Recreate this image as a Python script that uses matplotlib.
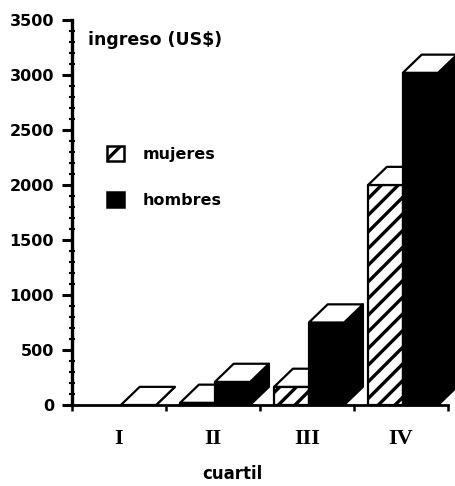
import numpy as np
import matplotlib
matplotlib.use("Agg")
import matplotlib.pyplot as plt
from matplotlib.patches import Rectangle, Polygon, Patch
from matplotlib.ticker import MultipleLocator, FixedLocator

# Ingreso por cuartil, mujeres y hombres (US$)
cuartiles = ["I", "II", "III", "IV"]
mujeres = [np.nan, 20, 165, 2000]
hombres = [0, 210, 750, 3020]
series_labels = ["mujeres", "hombres"]

plt.rcParams["hatch.linewidth"] = 2.4
SANS = "DejaVu Sans"
SERIF = "Liberation Serif"

fig = plt.figure(figsize=(4.56, 4.86), dpi=100)
ax = fig.add_axes([72 / 456, 1 - 405 / 486, 376 / 456, 385 / 486])
ax.set_xlim(0, 4)
ax.set_ylim(0, 3500)

# box geometry (category units / data units)
W = 0.375
OFF = [0.15, 0.52]
DX, DY = 0.2, 165
LW = 1.6


def draw_box(x0, v, face, hatch, side):
    if np.isnan(v):
        return
    kw = dict(edgecolor="black", linewidth=LW, clip_on=False, joinstyle="round")
    ax.add_patch(Rectangle((x0, 0), W, v, facecolor=face, hatch=hatch, zorder=3, **kw))
    ax.add_patch(Polygon([(x0 + W, 0), (x0 + W + DX, DY), (x0 + W + DX, v + DY), (x0 + W, v)],
                         closed=True, facecolor=side, hatch=hatch, zorder=3, **kw))
    ax.add_patch(Polygon([(x0, v), (x0 + DX, v + DY), (x0 + W + DX, v + DY), (x0 + W, v)],
                         closed=True, facecolor="white", zorder=3, **kw))


for i in range(len(cuartiles)):
    draw_box(i + OFF[0], mujeres[i], "white", "//", "white")
    draw_box(i + OFF[1], hombres[i], "black", None, "black")

# axes styling
for s in ["top", "right"]:
    ax.spines[s].set_visible(False)
ax.spines["left"].set_linewidth(2.4)
ax.spines["bottom"].set_linewidth(2.0)
ax.spines["left"].set_zorder(5)
ax.spines["bottom"].set_zorder(5)

ax.yaxis.set_major_locator(MultipleLocator(500))
ax.yaxis.set_minor_locator(MultipleLocator(100))
ax.tick_params(axis="y", which="major", direction="out", length=7, width=2.2, pad=6,
               labelsize=11.5)
ax.tick_params(axis="y", which="minor", direction="inout", length=5, width=1.5)
for t in ax.get_yticklabels():
    t.set_fontfamily(SANS)
    t.set_fontweight("bold")

ax.xaxis.set_major_locator(FixedLocator(np.arange(0, 5)))
ax.xaxis.set_major_formatter(plt.NullFormatter())
ax.set_xticks(np.arange(len(cuartiles)) + 0.5, minor=True)
ax.set_xticklabels(cuartiles, minor=True, fontfamily=SERIF, fontweight="bold", fontsize=16)
ax.tick_params(axis="x", which="major", direction="out", length=4, width=1.8)
ax.tick_params(axis="x", which="minor", length=0, pad=17)

ax.set_xlabel("cuartil", fontfamily=SANS, fontweight="bold", fontsize=12)
ax.xaxis.set_label_coords(0.426, -0.179)
ax.xaxis.label.set_verticalalignment("center")

ax.text(0.043, 0.948, "ingreso (US$)", transform=ax.transAxes, fontfamily=SANS,
        fontweight="bold", fontsize=12.5, va="center", ha="left")

handles = [Patch(facecolor="white", edgecolor="black", hatch="/", linewidth=1.8),
           Patch(facecolor="black", edgecolor="black", linewidth=1.8)]
leg = ax.legend(handles, series_labels, loc="upper left", bbox_to_anchor=(0.093, 0.672),
                frameon=False, borderpad=0, borderaxespad=0, handlelength=1.08,
                handleheight=1.08, handletextpad=1.15, labelspacing=1.85,
                prop=dict(family=SANS, weight="bold", size=11.5))

fig.savefig("out.png", dpi=100, facecolor="white")
